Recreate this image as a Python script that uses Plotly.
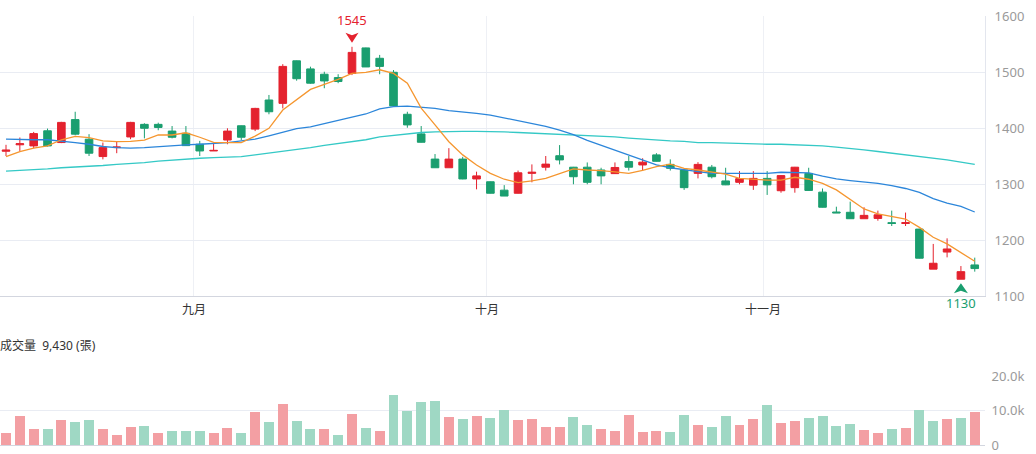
import numpy as np
import plotly.graph_objects as go

# ---------------- data ----------------
day_index = list(range(71))

open_ = [1358.5, 1370, 1368, 1395, 1374, 1415, 1380, 1349, 1365, 1384,
         1406.5, 1406.5, 1394.5, 1390.5, 1371, 1359, 1378.5, 1404, 1398, 1450,
         1444, 1520, 1505.5, 1496, 1490, 1497.5, 1543, 1524.5, 1499.5, 1424.5,
         1389.5, 1344.5, 1329, 1344.5, 1309, 1304, 1289, 1283.5, 1319, 1330,
         1350.5, 1330, 1330, 1325, 1318.5, 1340, 1334, 1352, 1335, 1325,
         1319, 1330, 1305.5, 1303, 1298, 1310, 1288, 1293.5, 1319, 1285.5,
         1250, 1249.5, 1238, 1238.5, 1231, 1229.5, 1219.5, 1148, 1178.5, 1130,
         1155.5]
high = [1370, 1383, 1393, 1399, 1411, 1429, 1389, 1374, 1375, 1411,
        1408.5, 1409.5, 1403.5, 1403.5, 1377, 1372.5, 1399.5, 1404.5, 1436, 1459,
        1514, 1520.5, 1509.5, 1500.5, 1496, 1545, 1543.5, 1530.5, 1503.5, 1429,
        1403.5, 1353.5, 1364, 1348.5, 1322, 1304.5, 1298, 1324, 1335, 1350,
        1369.5, 1330.5, 1338.5, 1329, 1338.5, 1350, 1346, 1355, 1344, 1325.5,
        1339, 1334, 1329, 1323, 1323, 1323, 1315.5, 1330.5, 1329, 1292,
        1259.5, 1268.5, 1258.5, 1252.5, 1252.5, 1249, 1220, 1193, 1203, 1153.5,
        1168.5]
low = [1350, 1359, 1364, 1367, 1373, 1387, 1350, 1344, 1355, 1380,
       1381.5, 1396, 1381.5, 1368, 1350, 1359, 1371, 1378.5, 1394.5, 1424.5,
       1435, 1484.5, 1479, 1471, 1480, 1494.5, 1509, 1496, 1439, 1400.5,
       1374, 1329, 1329, 1308.5, 1290.5, 1283, 1278.5, 1283, 1303, 1324,
       1335, 1299.5, 1299.5, 1299.5, 1318, 1324, 1324, 1340, 1324, 1289.5,
       1310, 1310, 1298, 1299.5, 1289.5, 1280.5, 1284.5, 1284.5, 1288, 1258,
       1248.5, 1238, 1238, 1234.5, 1225, 1225, 1167, 1148, 1169, 1130,
       1143.5]
close = [1360.5, 1372, 1390, 1368, 1410, 1389, 1355, 1365, 1366, 1410,
         1399.5, 1401, 1383.5, 1368.5, 1359, 1360, 1394.5, 1383.5, 1435, 1429,
         1510, 1488, 1480, 1484, 1483, 1535, 1509, 1510, 1439.5, 1405.5,
         1374.5, 1329, 1344.5, 1309, 1314.5, 1283.5, 1278.5, 1320, 1321, 1335.5,
         1343, 1313, 1303, 1314.5, 1329.5, 1330, 1339, 1340.5, 1328, 1293.5,
         1335, 1313, 1298.5, 1309.5, 1310, 1298.5, 1315, 1330, 1288.5, 1258.5,
         1248.5, 1238, 1244, 1245, 1229.5, 1231, 1167.5, 1158.5, 1184, 1143.5,
         1149]
volume = [3480, 8320, 4730, 4540, 7250, 6570, 7150, 4540, 2800, 5310,
          5510, 3480, 3960, 4150, 3960, 3380, 4830, 3480, 9470, 6760,
          11890, 6860, 4730, 4540, 2900, 8890, 4830, 3960, 14500, 9860,
          12560, 12760, 8210, 7630, 8320, 7730, 10050, 7250, 7440, 5310,
          5220, 8030, 5890, 4640, 4060, 8600, 3670, 4150, 3860, 8600,
          5800, 5220, 8320, 5700, 7540, 11600, 6380, 6960, 7830, 8410,
          5510, 6000, 4350, 3380, 4540, 4930, 10050, 6960, 7540, 7830,
          9430]
ma5 = [1349, 1358, 1364, 1368, 1379, 1385, 1383, 1377, 1375.5, 1376,
       1378.5, 1387.5, 1387.5, 1391.5, 1383.5, 1374.5, 1374, 1374, 1385.5, 1399.5,
       1432, 1451, 1469, 1478, 1487, 1497.5, 1499.5, 1504, 1497.5, 1480,
       1435.5, 1405.5, 1375.5, 1352, 1334, 1319, 1308.5, 1302.5, 1305.5, 1310,
       1319, 1327, 1325, 1324, 1321.5, 1319, 1324.5, 1331, 1335.5, 1328,
       1325, 1321, 1317.5, 1310, 1308.5, 1307, 1307, 1312, 1308.5, 1301,
       1289.5, 1272.5, 1255.5, 1246.5, 1241.5, 1237.5, 1222.5, 1205, 1193, 1177.5,
       1162]
ma20 = [1380, 1379, 1379, 1379, 1377, 1374, 1371, 1367, 1365, 1364,
        1365, 1367, 1368, 1370, 1371, 1372, 1374, 1377, 1380, 1386,
        1393, 1399, 1402, 1408, 1413, 1419, 1425, 1434, 1438, 1439,
        1437, 1435, 1431, 1429, 1426, 1423, 1418, 1413, 1408, 1403,
        1396, 1388, 1378, 1369, 1361, 1352, 1343, 1334, 1329, 1325,
        1322, 1319, 1319, 1319, 1318, 1319, 1321, 1321, 1320, 1314,
        1309, 1306, 1304, 1301, 1297, 1292, 1285, 1274, 1266, 1260,
        1250]
ma60 = [1323, 1324, 1326, 1327, 1329, 1330, 1331, 1333, 1335, 1336,
        1338, 1341, 1343, 1344, 1346, 1347, 1348, 1349, 1352, 1355,
        1358, 1362, 1365, 1369, 1372, 1376, 1379, 1384, 1387, 1390,
        1392, 1393, 1394, 1394, 1394, 1394, 1393, 1392, 1391, 1390,
        1389, 1388, 1387, 1386, 1384, 1382, 1380, 1379, 1377, 1376,
        1374, 1374, 1373, 1372, 1371, 1371, 1371, 1370, 1370, 1368,
        1366, 1364, 1361, 1358, 1355, 1353, 1350, 1346, 1343, 1339,
        1335]
month_labels = ["九月", "十月", "十一月"]
month_tick_pos = [13.58, 34.75, 54.7]
price_ticks = [1100, 1200, 1300, 1400, 1500, 1600]
vol_ticks = [0, 10000, 20000]
vol_tick_text = ["0", "10.0k", "20.0k"]

# ---------------- styles ----------------
RED = "#E4222E"
GREEN = "#1A9E6F"
RED_VOL = "#F39FA3"
GREEN_VOL = "#9FD8C4"
GRID = "#E9ECF3"
AXIS = "#D3D6DF"
TICK = "#9A9A9A"
FONT = "Noto Sans, Noto Sans CJK TC, sans-serif"

vol_colors = []
for i in range(len(close)):
    prev = close[i - 1] if i > 0 else open_[0]
    vol_colors.append(RED_VOL if close[i] >= prev else GREEN_VOL)

fig = go.Figure()

fig.add_trace(go.Candlestick(
    x=day_index, open=open_, high=high, low=low, close=close,
    increasing=dict(line=dict(color=RED, width=1), fillcolor=RED),
    decreasing=dict(line=dict(color=GREEN, width=1), fillcolor=GREEN),
    whiskerwidth=0, showlegend=False, hoverinfo="skip",
    xaxis="x", yaxis="y"))

for vals, col in [(ma60, "#35C9C6"), (ma20, "#2C86DA"), (ma5, "#F5962F")]:
    fig.add_trace(go.Scatter(x=day_index, y=vals, mode="lines",
                             line=dict(color=col, width=1.3),
                             showlegend=False, hoverinfo="skip",
                             xaxis="x", yaxis="y"))

fig.add_trace(go.Bar(x=day_index, y=volume, marker=dict(color=vol_colors, line=dict(width=0)),
                     width=0.72, showlegend=False, hoverinfo="skip",
                     xaxis="x2", yaxis="y2"))

xr = [-0.434, 70.74]
hi_i = int(np.argmax(high))
lo_i = int(np.argmin(low))

fig.update_layout(
    width=1036, height=454,
    margin=dict(l=0, r=51, t=16, b=9),
    paper_bgcolor="white", plot_bgcolor="white",
    font=dict(family=FONT, size=12, color="#333333"),
    boxgap=0.45, boxgroupgap=0,
    bargap=0,
    xaxis=dict(domain=[0, 1], range=xr, anchor="y",
               rangeslider=dict(visible=False),
               tickmode="array", tickvals=month_tick_pos, ticktext=month_labels,
               showgrid=True, gridcolor="#EEF0F5", gridwidth=1,
               showline=True, linecolor=AXIS, linewidth=1,
               ticks="outside", ticklen=3, tickcolor="rgba(0,0,0,0)",
               tickfont=dict(size=12, color="#333333"), zeroline=False),
    yaxis=dict(domain=[0.3473, 1], range=[1100, 1600], side="right", anchor="x",
               tickmode="array", tickvals=price_ticks,
               showgrid=True, gridcolor=GRID, gridwidth=1,
               showline=True, linecolor="#E3E6EE", linewidth=1,
               ticks="outside", ticklen=6, tickcolor="rgba(0,0,0,0)",
               tickfont=dict(size=13, color=TICK), zeroline=False),
    xaxis2=dict(domain=[0, 1], range=xr, anchor="y2", showticklabels=False,
                showgrid=False, showline=True, linecolor=AXIS, linewidth=1,
                zeroline=False),
    yaxis2=dict(domain=[0, 0.1608], range=[0, 20000], side="right", anchor="x2",
                tickmode="array", tickvals=vol_ticks, ticktext=vol_tick_text,
                showgrid=True, gridcolor=GRID, gridwidth=1,
                ticks="outside", ticklen=3, tickcolor="rgba(0,0,0,0)",
                tickfont=dict(size=13, color=TICK), zeroline=False),
)

# high / low markers
fig.add_shape(type="path", xref="x", yref="y", xsizemode="pixel", ysizemode="pixel",
              xanchor=hi_i, yanchor=high[hi_i],
              path="M0,4 L6.5,14 L0,11.5 L-6.5,14 Z",
              fillcolor=RED, line=dict(width=0))
fig.add_annotation(x=hi_i, y=high[hi_i], xref="x", yref="y", text=f"{high[hi_i]:g}",
                   showarrow=False, yshift=27, font=dict(size=13, color=RED))
fig.add_shape(type="path", xref="x", yref="y", xsizemode="pixel", ysizemode="pixel",
              xanchor=lo_i, yanchor=low[lo_i],
              path="M0,-4 L7,-14 L0,-11.5 L-7,-14 Z",
              fillcolor=GREEN, line=dict(width=0))
fig.add_annotation(x=lo_i, y=low[lo_i], xref="x", yref="y", text=f"{low[lo_i]:g}",
                   showarrow=False, yshift=-24, font=dict(size=13, color=GREEN))

fig.add_annotation(x=0, y=(445 - 345) / 429, xref="paper", yref="paper",
                   xanchor="left", yanchor="middle", showarrow=False, xshift=-2,
                   text=f"成交量\u00a0\u00a0{volume[-1]:,} (張)",
                   font=dict(size=12, color="#333333"))

fig.write_html("out.html")
